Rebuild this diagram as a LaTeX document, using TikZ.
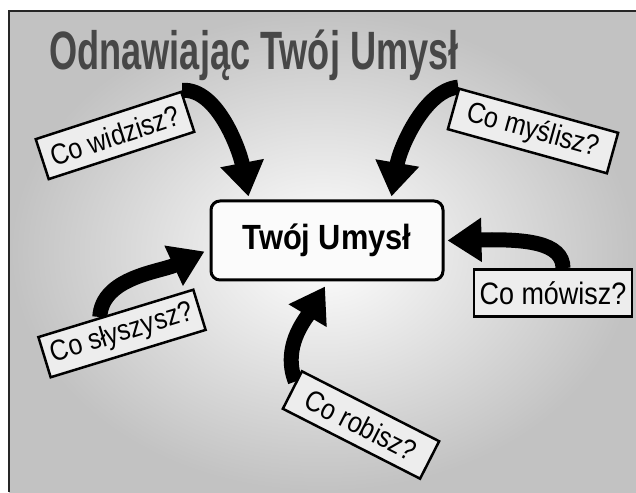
\documentclass[tikz,border=0pt]{standalone}
\usepackage{fontspec}
\setmainfont{Liberation Sans}
\usepackage{graphicx}
\usetikzlibrary{arrows.meta,positioning,calc,backgrounds}

% narrow text as in the labels
\newcommand{\narrowtext}[2][0.87]{\scalebox{#1}[1]{#2}}

\begin{document}
\begin{tikzpicture}[
  x=1pt, y=1pt,
  question/.style={draw, line width=2.5pt, fill=gray!14, minimum width=155pt, minimum height=42pt, inner sep=1pt, font=\fontsize{29}{32}\selectfont},
  mindbox/.style={draw, line width=3pt, rounded corners=9pt, fill=gray!3, minimum width=232pt, minimum height=79pt, font=\bfseries\fontsize{35}{38}\selectfont},
  flow/.style={line width=15pt, -{Triangle[width=42pt,length=34pt]}},
]
\useasboundingbox (0,0) rectangle (636,492);
\node[anchor=base, text=black!72, font=\bfseries\fontsize{54}{60}\selectfont] (title) at (254,422)
  {\narrowtext[0.67]{Odnawiając Twój Umysł}};

\node[mindbox] (mind) at (327,251.5) {\narrowtext[0.88]{Twój Umysł}};
\node[question, rotate=18, minimum width=153pt] (see) at (115,356.5) {\narrowtext{Co widzisz?}};
\node[question, rotate=-15.5, minimum width=165pt] (think) at (533,361) {\narrowtext{Co myślisz?}};
\node[question, rotate=17, minimum width=162pt] (hear) at (122,158.5) {\narrowtext{Co słyszysz?}};
\node[question, minimum width=158pt, minimum height=47pt, font=\fontsize{31}{34}\selectfont] (say) at (553,199) {\narrowtext{Co mówisz?}};
\node[question, rotate=-27, minimum width=154pt] (act) at (361,67) {\narrowtext{Co robisz?}};

\begin{scope}[on background layer]
\shade[inner color=white, outer color=gray!48] (9,0) rectangle (636,481);
\draw[line width=2pt, black!85] (9,0) -- (9,481) -- (636,481);
% arrows into the mind
\draw[flow] (see.north east) .. controls (218,404) and (240,340) .. ([xshift=39pt,yshift=3pt]mind.north west);
\draw[flow] (think.north west) .. controls (425,402) and (400,345) .. ([xshift=-53pt,yshift=3pt]mind.north east);
\draw[flow] ($(hear.north west)!0.4!(hear.north east)$) .. controls (102,215) and (160,220) .. ([xshift=-5pt,yshift=-11pt]mind.west);
\draw[flow] ([xshift=10pt]say.north) .. controls (563,250) and (525,253) .. ([xshift=3pt]mind.east);
\draw[flow] ($(act.north west)!0.3!(act.south west)$) .. controls (282,145) and (305,172) .. ([xshift=-2pt,yshift=-5pt]mind.south);
\end{scope}
\end{tikzpicture}
\end{document}
